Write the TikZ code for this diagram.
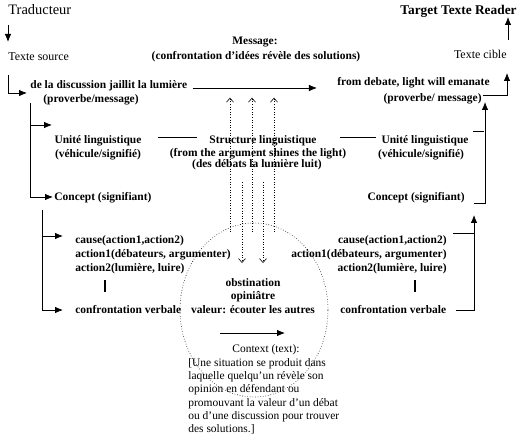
\documentclass[tikz,border=0pt]{standalone}
\usepackage{fontspec}
\setmainfont{Liberation Serif}
\usetikzlibrary{calc}
\usetikzlibrary{arrows.meta}
\usetikzlibrary{shapes.geometric}

\begin{document}
\begin{tikzpicture}[x=1bp, y=-1bp, line width=.8bp,
  >={Latex[length=8bp,width=6.5bp]},
  lbl/.style={font=\fontsize{11.5}{14}\bfseries\selectfont, inner sep=0pt},
  txt/.style={font=\fontsize{12}{14}\selectfont, inner sep=0pt},
  dots/.style={dotted, line width=.6bp, -{Straight Barb[length=4bp,width=7bp]}}]
\useasboundingbox (0,0) rectangle (521,435);
\node[draw, dotted, line width=.6bp, ellipse, minimum width=148bp, minimum height=174bp, inner sep=0pt] (circ) at (254,310) {};

\node[txt, font=\fontsize{14.5}{16}\selectfont, anchor=base west] (trad) at (8,15) {Traducteur};
\node[lbl, font=\fontsize{13.4}{16}\bfseries\selectfont, anchor=base east] (reader) at (517,15) {Target Texte Reader};
\node[txt, anchor=base west] (src) at (8,61) {Texte source};
\node[txt, anchor=base east] (cible) at (507,59) {Texte cible};
\node[lbl, anchor=base] (msg1) at (255,45) {Message:};
\node[lbl, anchor=base] (msg2) at (256,60) {(confrontation d’idées révèle des solutions)};
\node[lbl, anchor=base west] (prov1) at (30,89) {de la discussion jaillit la lumière};
\node[lbl, anchor=base west] (prov2) at (43,103) {(proverbe/message)};
\node[lbl, anchor=base east] (provR1) at (490,86) {from debate, light will emanate};
\node[lbl, anchor=base east] (provR2) at (482,102) {(proverbe/ message)};
\node[lbl, anchor=base] (unite1) at (98,144) {Unité linguistique};
\node[lbl, anchor=base] (unite2) at (98,158) {(véhicule/signifié)};
\node[lbl, anchor=base] (struct1) at (263,144) {Structure linguistique};
\node[lbl, anchor=base] (struct2) at (258,157) {(from the argument shines the light)};
\node[lbl, anchor=base] (struct3) at (257,168) {(des débats la lumière luit)};
\node[lbl, anchor=base] (uniteR1) at (425,144) {Unité linguistique};
\node[lbl, anchor=base] (uniteR2) at (421,158) {(véhicule/signifié)};
\node[lbl, anchor=base west] (concept) at (54,201) {Concept (signifiant)};
\node[lbl, anchor=base east] (conceptR) at (465,201) {Concept (signifiant)};
\node[lbl, anchor=north west, align=left] (cause) at (75,235)
  {cause(action1,action2)\\action1(débateurs, argumenter)\\action2(lumière, luire)};
\node[lbl, anchor=north east, align=right] (causeR) at (447,235)
  {cause(action1,action2)\\action1(débateurs, argumenter)\\action2(lumière, luire)};
\node[lbl, anchor=base west] (verb) at (75,313) {confrontation verbale};
\node[lbl, anchor=base west] (verbR) at (340,313) {confrontation verbale};
\node[lbl, font=\fontsize{11.5}{13.5}\bfseries\selectfont, anchor=north, align=center] (obst) at (253,278)
  {obstination\\opiniâtre\\valeur: écouter les autres};
\node[txt, font=\fontsize{11.5}{13.3}\selectfont, anchor=base] (ctxt) at (266,352) {Context (text):};
\node[txt, font=\fontsize{11.5}{13.3}\selectfont, anchor=north west, align=left] (para) at (188,358)
  {[Une situation se produit dans\\laquelle quelqu’un révèle son\\opinion en défendant ou\\promouvant la valeur d’un débat\\ou d’une discussion pour trouver\\des solutions.]};

% source side
\draw[->] ($(trad.base west)+(0,10)$) -- ($(src.base west)+(0,-19)$);
\draw[->] ($(src.base west)+(0,14)$) |- ($(prov1.base west)+(-3,4)$);
\draw[->] ($(prov2.base west)+(-13,0)$) |- ($(concept.base west)+(-1,-4)$);
\draw[->] ($(prov2.base west)+(-13,22)$) -- ++(22,0);
\draw[->] ($(concept.base west)+(-12,9)$) |- ($(verb.base west)+(-12,-3)$);
\draw[->] ($(concept.base west)+(-12,35)$) -- ++(21,0);
\draw[line width=1.3bp] ($(cause.south west)+(30,6)$) -- ++(0,12);

\draw[->] ($(prov1.base east)+(5,-1)$) -- ($(provR1.base west)+(-20,2)$);
\draw ($(unite1.base east)+(16,-7)$) -- ($(struct1.base west)+(-12,-7)$);
\draw ($(struct1.base east)+(23,-7)$) -- ($(uniteR1.base west)+(-5,-7)$);

% target side
\draw[->] ($(cible.base east)+(1,-19)$) -- ++(0,-23);
\draw[->] ($(provR2.base east)+(1,-7)$) -| ($(cible.base east)+(0,14)$);
\draw[->] ($(conceptR.base east)+(9,2)$) -| ($(provR2.base east)+(3,0)$);
\draw ($(uniteR1.base east)+(4,-13)$) -- ++(11,0);
\draw[->] ($(verbR.base east)+(9,-3)$) -| ($(conceptR.base east)+(9,14)$);
\draw ($(causeR.north east)+(6,-2)$) -- ++(21,0);
\draw[line width=1.3bp] ($(causeR.south east)+(-32,6)$) -- ++(0,12);

% dotted arrows
\foreach \dx in {-24,-2,20}
  \draw[dots] ($(circ.north)+(\dx,9)$) -- ++(0,-134);
\foreach \dx in {-11,10}
  \draw[dots] ($(obst.north)+(\dx,-96)$) -- ++(0,81);

\draw[->] ($(ctxt.base)+(-46,-19)$) -- ++(65,0);
\end{tikzpicture}
\end{document}
